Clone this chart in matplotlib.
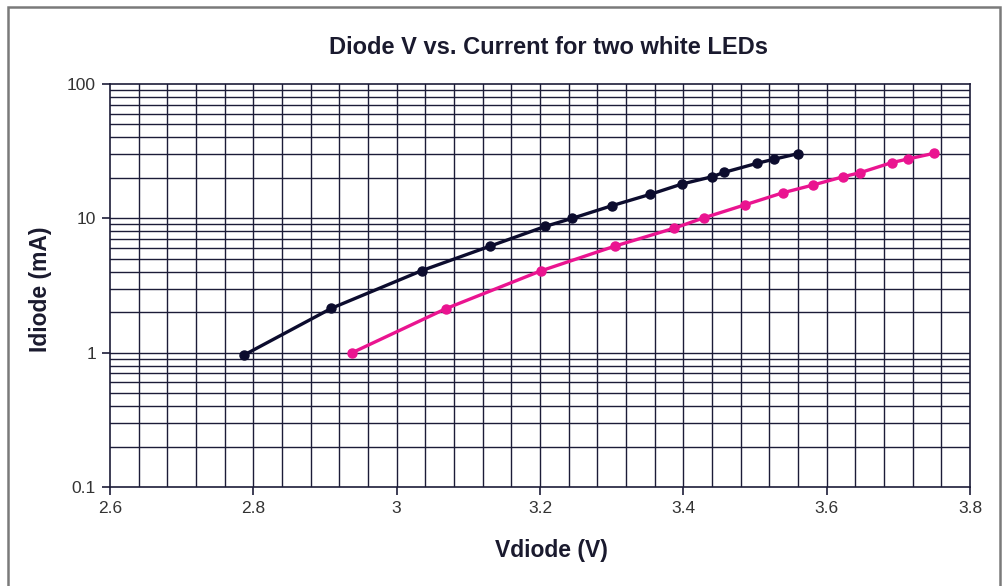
import matplotlib
matplotlib.use("Agg")
import matplotlib.pyplot as plt
import numpy as np
from matplotlib.ticker import FixedLocator, NullFormatter, NullLocator
from matplotlib.patches import Rectangle

# Data
led1_v = [2.787, 2.909, 3.035, 3.130, 3.207, 3.245, 3.300, 3.354, 3.398, 3.440, 3.457, 3.503, 3.526, 3.560]
led1_i = [0.96, 2.14, 4.08, 6.2, 8.7, 10.0, 12.4, 15.1, 18.0, 20.4, 22.0, 25.7, 27.5, 30.3]
led2_v = [2.938, 3.069, 3.201, 3.304, 3.387, 3.429, 3.486, 3.539, 3.581, 3.623, 3.647, 3.691, 3.714, 3.750]
led2_i = [1.0, 2.13, 4.06, 6.2, 8.44, 10.1, 12.6, 15.5, 17.7, 20.4, 21.9, 26.0, 27.7, 30.5]

title = "Diode V vs. Current for two white LEDs"
xlabel = "Vdiode (V)"
ylabel = "Idiode (mA)"
xticks = [2.6, 2.8, 3.0, 3.2, 3.4, 3.6, 3.8]
xtick_labels = ["2.6", "2.8", "3", "3.2", "3.4", "3.6", "3.8"]
yticks = [0.1, 1, 10, 100]
ytick_labels = ["0.1", "1", "10", "100"]

plt.rcParams['font.family'] = ['Liberation Sans', 'DejaVu Sans']

W, H = 1005, 586
fig = plt.figure(figsize=(W / 100, H / 100), dpi=100)
fig.patch.set_facecolor("white")

# outer frame
fig.patches.append(Rectangle((8 / W, -0.05), (1000 - 8) / W, 1 - 7 / H + 0.05,
                             transform=fig.transFigure, fill=False,
                             edgecolor="#7a7a7a", linewidth=1.8))

ax = fig.add_axes([110 / W, 1 - 487 / H, 860 / W, (487 - 84) / H])
ax.set_yscale("log")
ax.set_xlim(2.6, 3.8)
ax.set_ylim(0.1, 100)

gridc = "#1c1c38"
# vertical grid every 0.04
vgrid = np.arange(2.6, 3.8001, 0.04)
for v in vgrid[1:-1]:
    ax.axvline(v, color=gridc, lw=1.0, zorder=1)
# horizontal grid at log positions
for dec in [0.1, 1, 10]:
    for m in range(1, 10):
        val = dec * m
        if 0.1 < val < 100:
            ax.axhline(val, color=gridc, lw=1.0, zorder=1)

ax.plot(led1_v, led1_i, color="#0c0c2e", lw=2.4, marker="o", ms=6.5, zorder=3)
ax.plot(led2_v, led2_i, color="#ea1490", lw=2.4, marker="o", ms=6.5, zorder=3)

ax.xaxis.set_major_locator(FixedLocator(xticks))
ax.set_xticklabels(xtick_labels)
ax.yaxis.set_major_locator(FixedLocator(yticks))
ax.set_yticklabels(ytick_labels)
ax.yaxis.set_minor_locator(NullLocator())
ax.yaxis.set_minor_formatter(NullFormatter())
ax.tick_params(axis="both", direction="out", length=6, width=1.2, color=gridc,
               labelsize=12.5, labelcolor="#333333", pad=4)
for s in ax.spines.values():
    s.set_color(gridc)
    s.set_linewidth(1.2)

fig.text(548 / W, 1 - 47 / H, title, ha="center", va="center",
         fontsize=17, fontweight="bold", color="#1a1a2e")
fig.text(551 / W, 1 - 551 / H, xlabel, ha="center", va="center",
         fontsize=16.5, fontweight="bold", color="#1a1a2e")
fig.text(40 / W, 1 - 289 / H, ylabel, ha="center", va="center", rotation=90,
         fontsize=16.5, fontweight="bold", color="#1a1a2e")

fig.savefig("out.png", dpi=100)
